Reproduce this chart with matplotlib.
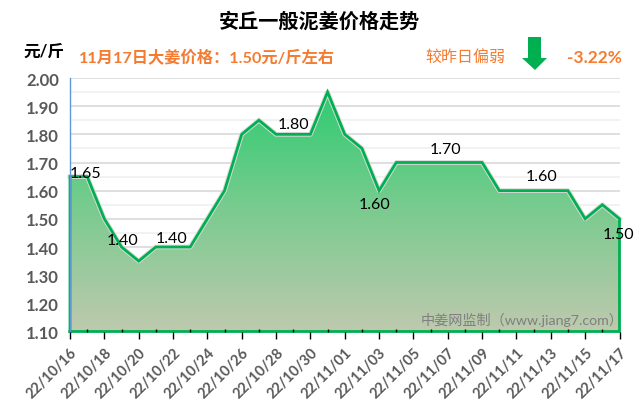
import matplotlib
matplotlib.use('Agg')
import matplotlib.pyplot as plt
import matplotlib.ticker as ticker
import matplotlib.colors as mcolors
from matplotlib.patches import Polygon
import numpy as np
import pandas as pd

plt.rcParams['font.family'] = ['Lato', 'Noto Sans CJK SC', 'DejaVu Sans']

dates = pd.date_range('2022-10-16', '2022-11-17').strftime('%y/%m/%d').tolist()
prices = [1.65, 1.65, 1.50, 1.40, 1.35, 1.40, 1.40, 1.40, 1.50, 1.60, 1.80,
          1.85, 1.80, 1.80, 1.80, 1.95, 1.80, 1.75, 1.60, 1.70, 1.70, 1.70,
          1.70, 1.70, 1.70, 1.60, 1.60, 1.60, 1.60, 1.60, 1.50, 1.55, 1.50]

# (index of the day, x offset, y offset) for the labelled points
labels = [(1, -2, 4), (13, 0, 10), (3, 1, 7), (6, -1, 9), (18, -5, -13),
          (22, -2, 14), (27, 8, 15), (32, -1, -15)]

GREEN = '#00B050'
ORANGE = '#F47B30'
GREY = '#595959'

fig = plt.figure(figsize=(6.4, 4.1), dpi=100)
ax = fig.add_axes([70/640, 1-332.5/410, 549.5/640, 253.5/410])

x = np.arange(len(dates))
ax.set_xlim(0, len(dates)-1)
ax.set_ylim(1.10, 2.00)

# horizontal grid
ax.yaxis.set_major_locator(ticker.MultipleLocator(0.1))
ax.yaxis.set_minor_locator(ticker.MultipleLocator(0.05))
ax.yaxis.set_major_formatter(ticker.FormatStrFormatter('%.2f'))
ax.grid(axis='y', which='major', color='#D9D9D9', lw=1.2, zorder=0)
ax.grid(axis='y', which='minor', color='#F0F0F0', lw=1.2, zorder=0)
ax.set_axisbelow(True)
# date ticks sit on top of the filled area
ax.xaxis.set_zorder(4)

# area under the line, shaded from top to bottom
poly_x = np.r_[x[0], x, x[-1], x[0]]
poly_y = np.r_[1.10, prices, 1.10, 1.10]
cmap = mcolors.LinearSegmentedColormap.from_list(
    'area', ['#2ECC71', '#7CCB90', '#BEC9AE'])
grad = np.linspace(0, 1, 256).reshape(-1, 1)
im = ax.imshow(grad, cmap=cmap, aspect='auto', extent=[0, len(dates)-1, 1.10, 1.95],
               origin='upper', zorder=2)
clip = Polygon(np.c_[poly_x, poly_y], closed=True, transform=ax.transData)
im.set_clip_path(clip)
ax.set_xlim(0, len(dates)-1)
ax.set_ylim(1.10, 2.00)

# soft edge, then the outline itself
ax.plot(poly_x[1:-2], poly_y[1:-2], color='#D8D8D8', lw=3.4, zorder=2.5, clip_on=False)
ax.plot(poly_x, poly_y, color=GREEN, lw=2.0, zorder=3, clip_on=False,
        solid_joinstyle='miter')

for i, dx, dy in labels:
    ax.annotate(f'{prices[i]:.2f}', (x[i], prices[i]), xytext=(dx*0.72, dy*0.72),
                textcoords='offset points', ha='center', va='center',
                fontsize=11.5, color='black', zorder=5, annotation_clip=False)

for side in ['top', 'right']:
    ax.spines[side].set_visible(False)
ax.spines['left'].set_color('#5B9BD5')
ax.spines['left'].set_linewidth(1.0)
ax.spines['left'].set_zorder(4)
ax.spines['bottom'].set_visible(False)

ax.set_xticks(x[::2])
ax.set_xticks(x[1::2], minor=True)
ax.set_xticklabels(dates[::2], rotation=45, ha='right', va='top',
                   rotation_mode='anchor', fontsize=10.5, fontweight='bold', color=GREY)
ax.tick_params(axis='x', which='major', direction='out', length=5, width=1,
               color='black', pad=5)
ax.tick_params(axis='x', which='minor', direction='in', length=2.5, width=1, color='black')
ax.tick_params(axis='y', which='both', length=0, pad=8)
ax.tick_params(axis='y', labelsize=12, labelcolor=GREY)
for t in ax.get_yticklabels():
    t.set_fontweight('bold')

fig.text(319/640, 1-22/410, '安丘一般泥姜价格走势', ha='center', va='center',
         fontsize=14.5, fontweight='bold', color='black')
fig.text(43.5/640, 1-52/410, '元/斤', ha='center', va='center', fontsize=12,
         fontweight='bold', color='black')
fig.text(79/640, 1-58/410, '11月17日大姜价格：1.50元/斤左右', ha='left', va='center',
         fontsize=11.7, fontweight='bold', color=ORANGE)
fig.text(425/640, 1-57/410, '较昨日偏弱', ha='left', va='center', fontsize=11.5,
         fontweight='medium', color=ORANGE)
fig.text(567/640, 1-58/410, '-3.22%', ha='left', va='center', fontsize=12.5,
         fontweight='bold', color=ORANGE)
fig.text(421/640, 1-320/410, '中姜网监制（www.jiang7.com）', ha='left', va='center',
         fontsize=10.2, color='#7F7F7F', zorder=6)

# down arrow next to the day-on-day change
arrow_px = [(528, 38), (541, 38), (541, 59), (547, 59), (535, 71), (522, 59), (528, 59)]
fig.add_artist(Polygon([(a/640, 1-b/410) for a, b in arrow_px], closed=True,
                       transform=fig.transFigure, facecolor=GREEN, edgecolor='none'))

fig.savefig('out.png', dpi=100)
